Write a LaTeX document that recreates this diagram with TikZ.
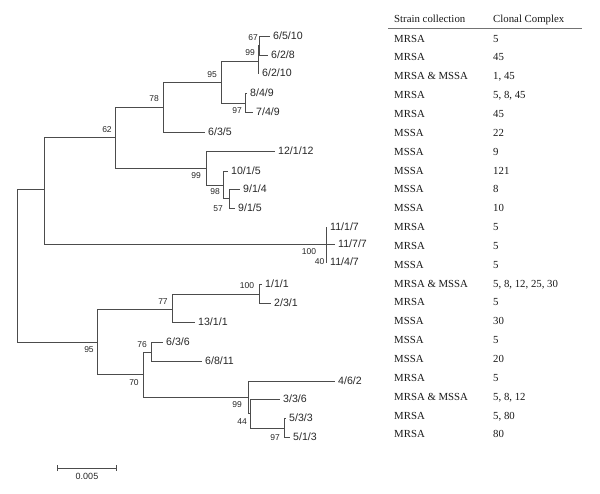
\documentclass[tikz,border=0pt]{standalone}
\usepackage{fontspec}
\setmainfont{Liberation Serif}
\setsansfont{Liberation Sans}
\usepackage{tikz}
\usetikzlibrary{arrows.meta,calc}
\tikzset{
  branch/.style={draw=black!70, line width=0.8pt},
  leaf/.style={anchor=west, inner xsep=3pt, inner ysep=0pt, text=black!85,
    font=\sffamily\fontsize{10.6}{12}\selectfont},
  boot/.style={inner sep=0pt, text=black!85, font=\sffamily\fontsize{8.5}{10}\selectfont},
  cell/.style={anchor=base west, inner sep=0pt, text=black!90,
    font=\fontsize{10.8}{13}\selectfont}
}

\begin{document}
\begin{tikzpicture}[x=1pt, y=-1pt]
			\useasboundingbox (0,0) rectangle (600,494);
			
			% Internal nodes of the tree
			\coordinate (root) at (17,265);
			\coordinate (nA) at (44,189);
			\coordinate (n62) at (115,137);
			\coordinate (n78) at (163,107);
			\coordinate (n95a) at (221,82);
			\coordinate (n99b) at (258,61);
			\coordinate (n67) at (259,45);
			\coordinate (n97a) at (245,103);
			\coordinate (n99a) at (206,168);
			\coordinate (n98) at (223,185);
			\coordinate (n57) at (229,198);
			\coordinate (n100a) at (326,244);
			\coordinate (n95b) at (97,342);
			\coordinate (n77) at (172,309);
			\coordinate (n100b) at (259,294);
			\coordinate (n70) at (143,374);
			\coordinate (n76) at (151,352);
			\coordinate (n99c) at (248,397);
			\coordinate (n44) at (250,413);
			\coordinate (n97b) at (284,428);
			
			% Leaves
			\node[leaf] (l6510) at (270,36) {6/5/10};
			\node[leaf] (l628) at (268,55) {6/2/8};
			\node[leaf] (l6210) at (259,73) {6/2/10};
			\node[leaf] (l849) at (247,93) {8/4/9};
			\node[leaf] (l749) at (253,112) {7/4/9};
			\node[leaf] (l635) at (205,132) {6/3/5};
			\node[leaf] (l12112) at (275,151) {12/1/12};
			\node[leaf] (l1015) at (228,171) {10/1/5};
			\node[leaf] (l914) at (240,189) {9/1/4};
			\node[leaf] (l915) at (235,208) {9/1/5};
			\node[leaf] (l1117) at (327,227) {11/1/7};
			\node[leaf] (l1177) at (335,244) {11/7/7};
			\node[leaf] (l1147) at (327,262) {11/4/7};
			\node[leaf] (l111) at (262,284) {1/1/1};
			\node[leaf] (l231) at (271,303) {2/3/1};
			\node[leaf] (l1311) at (195,322) {13/1/1};
			\node[leaf] (l636) at (163,342) {6/3/6};
			\node[leaf] (l6811) at (202,361) {6/8/11};
			\node[leaf] (l462) at (335,381) {4/6/2};
			\node[leaf] (l336) at (280,399) {3/3/6};
			\node[leaf] (l533) at (286,418) {5/3/3};
			\node[leaf] (l513) at (290,437) {5/1/3};
			
			% Branches
			\draw[branch] (root) |- (nA);
			\draw[branch] (root) |- (n95b);
			\draw[branch] (nA) |- (n62);
			\draw[branch] (nA) |- (n100a);
			\draw[branch] (n62) |- (n78);
			\draw[branch] (n62) |- (n99a);
			\draw[branch] (n78) |- (n95a);
			\draw[branch] (n78) |- (l635.west);
			\draw[branch] (n95a) |- (n99b);
			\draw[branch] (n95a) |- (n97a);
			\draw[branch] (n99b) |- (n67);
			\draw[branch] (n99b) |- (l6210.west);
			\draw[branch] (n67) |- (l6510.west);
			\draw[branch] (n67) |- (l628.west);
			\draw[branch] (n97a) |- (l849.west);
			\draw[branch] (n97a) |- (l749.west);
			\draw[branch] (n99a) |- (l12112.west);
			\draw[branch] (n99a) |- (n98);
			\draw[branch] (n98) |- (l1015.west);
			\draw[branch] (n98) |- (n57);
			\draw[branch] (n57) |- (l914.west);
			\draw[branch] (n57) |- (l915.west);
			\draw[branch] (n100a) |- (l1117.west);
			\draw[branch] (n100a) |- (l1177.west);
			\draw[branch] (n100a) |- (l1147.west);
			\draw[branch] (n95b) |- (n77);
			\draw[branch] (n95b) |- (n70);
			\draw[branch] (n77) |- (n100b);
			\draw[branch] (n77) |- (l1311.west);
			\draw[branch] (n100b) |- (l111.west);
			\draw[branch] (n100b) |- (l231.west);
			\draw[branch] (n70) |- (n76);
			\draw[branch] (n70) |- (n99c);
			\draw[branch] (n76) |- (l636.west);
			\draw[branch] (n76) |- (l6811.west);
			\draw[branch] (n99c) |- (l462.west);
			\draw[branch] (n99c) |- (n44);
			\draw[branch] (n44) |- (l336.west);
			\draw[branch] (n44) |- (n97b);
			\draw[branch] (n97b) |- (l533.west);
			\draw[branch] (n97b) |- (l513.west);
			
			% Bootstrap values
			\node[boot] (b78) at (154,99) {78};
			\node[boot] (b62) at (107,130) {62};
			\node[boot] (b95a) at (212,75) {95};
			\node[boot] (b99b) at (250,53) {99};
			\node[boot] (b67) at (253,38) {67};
			\node[boot] (b97a) at (237,111) {97};
			\node[boot] (b99a) at (196,176) {99};
			\node[boot] (b98) at (215,192) {98};
			\node[boot] (b57) at (218,209) {57};
			\node[boot] (b100a) at (309,252) {100};
			\node[boot] (b40) at (319.5,262) {40};
			\node[boot] (b95b) at (89,350) {95};
			\node[boot] (b77) at (163,302) {77};
			\node[boot] (b100b) at (247,286) {100};
			\node[boot] (b76) at (142,345) {76};
			\node[boot] (b70) at (134,383) {70};
			\node[boot] (b99c) at (237,405) {99};
			\node[boot] (b44) at (242,422) {44};
			\node[boot] (b97b) at (275,438) {97};
			
			% Scale bar
			\coordinate (sbL) at (57,468);
			\coordinate (sbR) at (117,468);
			\draw[branch, {Bar[width=6pt]}-{Bar[width=6pt]}] (sbL) -- (sbR);
			\node[boot, font=\sffamily\fontsize{9}{10}\selectfont] (sbtext) at (87,476) {0.005};
			
			% Table
			\node[cell] (hstrain) at (394,22.6) {Strain collection};
			\node[cell] (hcc) at (493,22.6) {Clonal Complex};
			\coordinate (ruleL) at (388,28);
			\coordinate (ruleR) at (582,28);
			\draw[black!55, line width=0.8pt] (ruleL) -- (ruleR);
			\foreach \strain/\cc [count=\i from 0] in {MRSA/5, MRSA/45, MRSA \& MSSA/{1, 45}, MRSA/{5, 8, 45},
				MRSA/45, MSSA/22, MSSA/9, MSSA/121, MSSA/8, MSSA/10, MRSA/5, MRSA/5, MSSA/5,
				MRSA \& MSSA/{5, 8, 12, 25, 30}, MRSA/5, MSSA/30, MSSA/5, MSSA/20, MRSA/5,
				MRSA \& MSSA/{5, 8, 12}, MRSA/{5, 80}, MRSA/80}
			{
				\node[cell] (s\i) at (394,{42.1+18.85*\i}) {\strain};
				\node[cell] (c\i) at (493,{42.1+18.85*\i}) {\cc};
			}
		\end{tikzpicture}
\end{document}
